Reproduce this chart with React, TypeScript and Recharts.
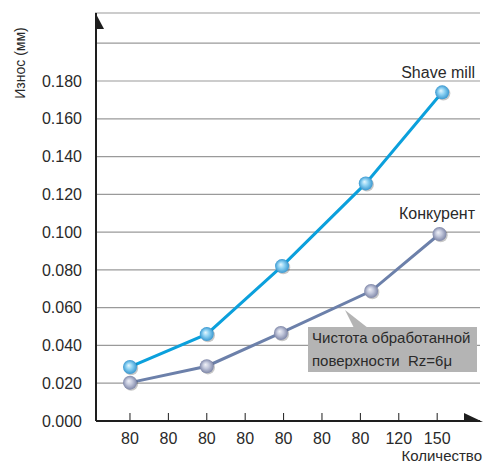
import React from 'react';
import { CartesianGrid, Customized, Line, LineChart, XAxis, YAxis } from 'recharts';

// износ инструмента: Shave mill vs конкурент
const TICK_POS = [0, 1, 2, 3, 4, 5, 6, 7, 8];
const TICK_LABELS = ['80', '80', '80', '80', '80', '80', '80', '120', '150'];
const Y_TICKS = [0, 0.02, 0.04, 0.06, 0.08, 0.1, 0.12, 0.14, 0.16, 0.18, 0.2];

const SHAVE_X = [0, 2, 3.96, 6.14, 8.13];
const SHAVE_Y = [0.0286, 0.046, 0.082, 0.1258, 0.174];
const RIVAL_X = [0, 2, 3.93, 6.28, 8.06];
const RIVAL_Y = [0.0203, 0.029, 0.0466, 0.0688, 0.099];

const shaveData = SHAVE_X.map((x, i) => ({ x, y: SHAVE_Y[i] }));
const rivalData = RIVAL_X.map((x, i) => ({ x, y: RIVAL_Y[i] }));

const FONT = '"Liberation Sans", Arial, Helvetica, sans-serif';
const TEXT = '#2a2a2a';
const AXIS = '#1e1e1e';
const GRID = '#9a9a9a';
const SHAVE_COLOR = '#0ba0dc';
const RIVAL_COLOR = '#6c80aa';

function makeDot(grad: string) {
  return (props: { cx?: number; cy?: number; index?: number }) => {
    const { cx, cy, index } = props;
    if (cx == null || cy == null) return <g key={index} />;
    return (
      <g key={index}>
        <circle cx={cx + 1.2} cy={cy + 1.2} r={7} fill="rgba(0,0,0,0.22)" />
        <circle cx={cx} cy={cy} r={7} fill={`url(#${grad})`} />
      </g>
    );
  };
}

function XTick(props: { x?: number; y?: number; payload?: { value: number } }) {
  const { x = 0, y = 0, payload } = props;
  const label = TICK_LABELS[payload ? payload.value : 0];
  return (
    <g>
      <line x1={x} x2={x} y1={y - 8} y2={y} stroke={AXIS} strokeWidth={1} />
      <text x={x} y={y + 23} textAnchor="middle" fontSize={16} fill={TEXT} fontFamily={FONT}>
        {label}
      </text>
    </g>
  );
}

function Decor() {
  return (
    <g>
      <defs>
        <radialGradient id="gShave" cx="0.5" cy="0.5" r="0.5" fx="0.4" fy="0.38">
          <stop offset="0%" stopColor="#e6f7fe" />
          <stop offset="45%" stopColor="#8ed2f3" />
          <stop offset="100%" stopColor="#3a98d0" />
        </radialGradient>
        <radialGradient id="gRival" cx="0.5" cy="0.5" r="0.5" fx="0.4" fy="0.38">
          <stop offset="0%" stopColor="#f0f1f7" />
          <stop offset="45%" stopColor="#c3c8dc" />
          <stop offset="100%" stopColor="#7f87a8" />
        </radialGradient>
      </defs>
      {/* стрелки осей */}
      <polygon points="95,12 95,29 104,29" fill={AXIS} />
      <polygon points="464,413 464,422 483,422" fill={AXIS} />
      {/* подписи осей */}
      <text
        transform="translate(25,63) rotate(-90)"
        textAnchor="middle"
        fontSize={14}
        fill={TEXT}
        fontFamily={FONT}
      >
        Износ (мм)
      </text>
      <text x={482} y={461} textAnchor="end" fontSize={15} fill={TEXT} fontFamily={FONT}>
        Количество
      </text>
      {/* названия серий */}
      <text x={475} y={78} textAnchor="end" fontSize={16} fill={TEXT} fontFamily={FONT}>
        Shave mill
      </text>
      <text x={475} y={219} textAnchor="end" fontSize={16} fill={TEXT} fontFamily={FONT}>
        Конкурент
      </text>
      {/* выноска */}
      <polygon points="345,310 354,328 368,328" fill="#b4b4b4" />
      <rect x={308} y={327} width={169} height={45} fill="#b4b4b4" />
      <text x={312} y={343} fontSize={15} fill={TEXT} fontFamily={FONT}>
        Чистота обработанной
      </text>
      <text x={312} y={366} fontSize={15} fill={TEXT} fontFamily={FONT}>
        {'поверхности\u00a0 Rz=6μ'}
      </text>
    </g>
  );
}

export default function App() {
  return (
    <div style={{ position: 'absolute', left: 0, top: 0, background: '#fff' }}>
      <LineChart width={483} height={464} margin={{ top: 13, right: 3, bottom: 0, left: 0 }}>
        <CartesianGrid horizontal vertical={false} stroke={GRID} strokeWidth={1.2} />
        <XAxis
          type="number"
          dataKey="x"
          domain={[-0.885, 9.115]}
          ticks={TICK_POS}
          allowDataOverflow
          height={43}
          tickSize={0}
          tickMargin={0}
          tickLine={false}
          axisLine={{ stroke: AXIS, strokeWidth: 2 }}
          tick={<XTick />}
        />
        <YAxis
          type="number"
          domain={[0, 0.216]}
          ticks={Y_TICKS}
          allowDataOverflow
          width={96}
          tickSize={0}
          tickMargin={14}
          tickLine={false}
          axisLine={{ stroke: AXIS, strokeWidth: 2 }}
          tickFormatter={(v: number) => (v > 0.19 ? '' : v.toFixed(3))}
          tick={{ fill: TEXT, fontSize: 16, fontFamily: FONT }}
        />
        <Customized component={Decor} />
        <Line
          data={rivalData}
          dataKey="y"
          stroke={RIVAL_COLOR}
          strokeWidth={3}
          dot={makeDot('gRival')}
          activeDot={false}
          isAnimationActive={false}
        />
        <Line
          data={shaveData}
          dataKey="y"
          stroke={SHAVE_COLOR}
          strokeWidth={3}
          dot={makeDot('gShave')}
          activeDot={false}
          isAnimationActive={false}
        />
      </LineChart>
    </div>
  );
}
